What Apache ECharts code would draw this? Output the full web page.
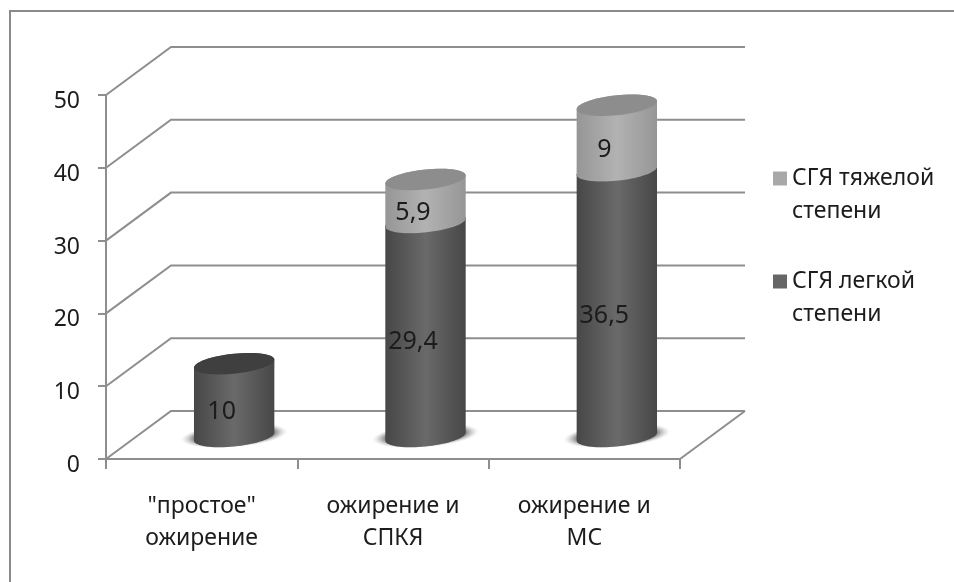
<!DOCTYPE html>
<html><head><meta charset="utf-8">
<style>html,body{margin:0;padding:0;background:#fff}#c{width:954px;height:582px;filter:blur(0.45px)}</style>
<script src="https://cdn.jsdelivr.net/npm/echarts@6/dist/echarts.min.js"></script>
</head><body><div id="c"></div>
<script>
const categories = ['"простое"\nожирение', 'ожирение и\nСПКЯ', 'ожирение и\nМС'];
const lightName = 'СГЯ легкой\nстепени';
const heavyName = 'СГЯ тяжелой\nстепени';
const lightValues = [10, 29.4, 36.5];
const heavyValues = [null, 5.9, 9];
const yTicks = [0, 10, 20, 30, 40, 50];

const FONT = '"Noto Sans","Open Sans",sans-serif';
const LINE = '#8e8e8e';
const TEXT = '#1c1c1c';
const DEPTH_X = 65, DEPTH_Y = -48, BASE_SHIFT = 1.5;

function ellipsePts(cx, cy, rx, ry, from, to) {
  const pts = [], n = 36, k = 0.1;
  for (let i = 0; i <= n; i++) {
    const t = from + (to - from) * i / n;
    pts.push([cx + rx * Math.cos(t), cy + ry * Math.sin(t) - k * rx * Math.cos(t)]);
  }
  return pts;
}

function wallItem(params, api) {
  const v = api.value(1);
  const band = api.size([1, 0])[0];
  const y = api.coord([0, v])[1];
  const left = api.coord([0, v])[0] - band / 2;
  const right = api.coord([categories.length - 1, v])[0] + band / 2;
  const style = { stroke: LINE, lineWidth: 2, fill: null };
  const children = [{
    type: 'polyline',
    shape: { points: [[left, y], [left + DEPTH_X, y + DEPTH_Y], [right + DEPTH_X, y + DEPTH_Y]] },
    style
  }];
  if (v === 0) children.push({
    type: 'line',
    shape: { x1: right, y1: y, x2: right + DEPTH_X, y2: y + DEPTH_Y },
    style
  });
  return { type: 'group', children };
}

function cylinder(colors) {
  return function (params, api) {
    const idx = api.value(0), start = api.value(1), end = api.value(2);
    const band = api.size([1, 0])[0];
    const rx = band * 0.21, ry = 10;
    const p0 = api.coord([idx, start]), p1 = api.coord([idx, end]);
    const cx = p0[0] + DEPTH_X / 2;
    const y0 = p0[1] + DEPTH_Y / 2 + BASE_SHIFT, y1 = p1[1] + DEPTH_Y / 2 + BASE_SHIFT;
    const body = ellipsePts(cx, y0, rx, ry, 0, Math.PI).concat(ellipsePts(cx, y1, rx, ry, Math.PI, 2 * Math.PI));
    const children = [];
    if (start === 0) {
      const r = rx * 1.33;
      children.push({
        type: 'circle',
        x: cx, y: y0 - 1, scaleY: 0.22, rotation: 0.08,
        shape: { cx: 0, cy: 0, r },
        style: { fill: { type: 'radial', x: 0.5, y: 0.5, r: 0.5, colorStops: [
          { offset: 0, color: 'rgba(95,95,95,1)' }, { offset: 0.72, color: 'rgba(105,105,105,1)' },
          { offset: 1, color: 'rgba(200,200,200,0)' }] } }
      });
    }
    children.push({
      type: 'polygon',
      shape: { points: body },
      style: { fill: { type: 'linear', x: 0, y: 0, x2: 1, y2: 0, colorStops: [
        { offset: 0, color: colors[0] }, { offset: 0.5, color: colors[1] }, { offset: 1, color: colors[0] }] } }
    });
    children.push({
      type: 'polygon',
      shape: { points: ellipsePts(cx, y1, rx, ry, 0, 2 * Math.PI) },
      style: { fill: colors[2] }
    });
    const mid = api.coord([idx, (start + end) / 2]);
    children.push({
      type: 'text',
      z2: 10,
      style: {
        x: mid[0] + 20, y: mid[1] - 10.5,
        text: String(+(end - start).toFixed(1)).replace('.', ','),
        align: 'center', verticalAlign: 'middle',
        fill: TEXT, font: '25px ' + FONT
      }
    });
    return { type: 'group', children };
  };
}

const lightData = lightValues.map((v, i) => [i, 0, v]);
const heavyData = heavyValues.map((v, i) => v == null ? null : [i, lightValues[i], lightValues[i] + v]).filter(Boolean);

const chart = echarts.init(document.getElementById('c'), null, { renderer: 'canvas' });
chart.setOption({
  animation: false,
  backgroundColor: '#ffffff',
  textStyle: { fontFamily: FONT },
  grid: { left: 106, top: 95, width: 574, height: 364 },
  graphic: [{
    type: 'polyline', silent: true,
    shape: { points: [[10, 582], [10, 11], [954, 11]] },
    style: { stroke: '#8a8a8a', lineWidth: 2, fill: null }
  }],
  legend: {
    left: 768, top: 124, orient: 'vertical', icon: 'rect',
    itemWidth: 14, itemHeight: 14, itemGap: 4,
    data: [heavyName, lightName],
    formatter: name => '\n' + name,
    textStyle: { fontFamily: FONT, fontSize: 23, color: TEXT, lineHeight: 33 },
    selectedMode: false
  },
  xAxis: {
    type: 'category', data: categories,
    axisLine: { lineStyle: { color: LINE, width: 2 } },
    axisTick: { show: true, length: 10, lineStyle: { color: LINE, width: 2 } },
    axisLabel: { color: TEXT, fontFamily: FONT, fontSize: 23, lineHeight: 32, margin: 31 },
    splitLine: { show: false }
  },
  yAxis: {
    type: 'value', min: 0, max: 50, interval: 10,
    axisLine: { show: true, lineStyle: { color: LINE, width: 2 } },
    axisTick: { show: true, length: 8, lineStyle: { color: LINE, width: 2 } },
    axisLabel: { color: TEXT, fontFamily: FONT, fontSize: 23, margin: 26, verticalAlign: 'top', lineHeight: 13 },
    splitLine: { show: false }
  },
  series: [
    { type: 'custom', name: 'walls', silent: true, z: 1, renderItem: wallItem,
      data: yTicks.map(v => [0, v]), encode: { x: 0, y: 1 } },
    { type: 'custom', name: lightName, z: 3, itemStyle: { color: '#666666' },
      renderItem: cylinder(['#474747', '#6a6a6a', '#3f3f3f']), data: lightData, encode: { x: 0, y: [1, 2] } },
    { type: 'custom', name: heavyName, z: 4, itemStyle: { color: '#a8a8a8' },
      renderItem: cylinder(['#969696', '#b2b2b2', '#8d8d8d']), data: heavyData, encode: { x: 0, y: [1, 2] } }
  ]
});
</script></body></html>
